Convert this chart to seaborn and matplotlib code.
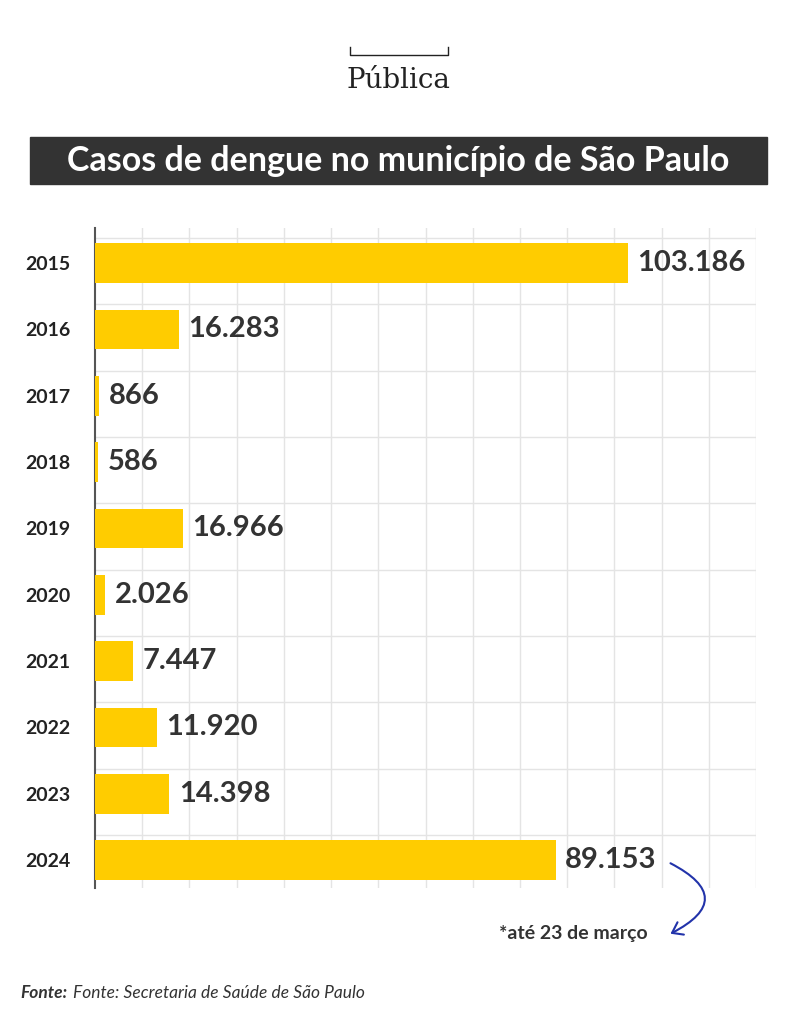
import matplotlib
matplotlib.use("Agg")
import matplotlib.pyplot as plt
import seaborn as sns
import pandas as pd
from matplotlib.patches import Rectangle, FancyArrowPatch

years = ["2015","2016","2017","2018","2019","2020","2021","2022","2023","2024"]
cases = [103186,16283,866,586,16966,2026,7447,11920,14398,89153]
labels = ["103.186","16.283","866","586","16.966","2.026","7.447","11.920","14.398","89.153"]

df = pd.DataFrame({"year": years, "cases": cases})
W, H = 793, 1016
fig = plt.figure(figsize=(W/100, H/100), dpi=100)
ax = fig.add_axes([95/W, 1-888/H, (756-95)/W, (888-228)/H])
sns.barplot(data=df, y="year", x="cases", orient="h", color="#FFCC00", width=0.6,
            saturation=1, ax=ax, zorder=3)
step = 9140
ax.set_xlim(0, 14*step)
ax.set_ylim(9.42, -0.53)
ax.set_xticks([step*i for i in range(1, 15)])
ax.set_yticks(range(10))
ax.set_yticklabels(years, fontsize=14, fontweight="bold", color="#222222", family="Lato")
ax.set_xticklabels([])
ax.set_yticks([i + 0.62 for i in range(-1, 9)], minor=True)
ax.tick_params(axis="both", length=0, pad=18)
ax.tick_params(axis="y", which="minor", length=0)
ax.grid(axis="x", color="#e4e4e4", lw=1, zorder=0)
ax.grid(axis="y", which="minor", color="#e4e4e4", lw=1, zorder=0)
ax.grid(axis="y", which="major", visible=False)
ax.set_xlabel(""); ax.set_ylabel("")
for s in ["top", "right", "bottom"]:
    ax.spines[s].set_visible(False)
ax.spines["left"].set_color("#555555")
ax.spines["left"].set_linewidth(1.5)
for i, (v, l) in enumerate(zip(cases, labels)):
    ax.text(v + 1800, i, l, va="center", ha="left", fontsize=21, fontweight="bold",
            color="#333333", family="Lato", zorder=4)

fig.patches.append(Rectangle((30/W, 1-184/H), 737/W, 47/H, transform=fig.transFigure,
                             color="#333333", zorder=0))
fig.text(398/W, 1-161/H, "Casos de dengue no município de São Paulo", color="white",
         fontsize=24.5, fontweight="bold", ha="center", va="center", family="Lato")
fig.text(398/W, 1-80/H, "Pública", fontsize=20, ha="center", va="center",
         family="DejaVu Serif", color="#222222")
fig.lines.append(plt.Line2D([350/W, 350/W, 448/W, 448/W], [1-47/H, 1-55/H, 1-55/H, 1-47/H],
                            transform=fig.transFigure, color="#222222", lw=1))
fig.text(573/W, 1-933/H, "*até 23 de março", fontsize=14, fontweight="bold",
         ha="center", va="center", family="Lato", color="#333333")
fig.patches.append(FancyArrowPatch((668/W, 1-862/H), (668/W, 1-935/H), transform=fig.transFigure,
                                   connectionstyle="arc3,rad=-1.0", arrowstyle="->,head_length=7,head_width=5",
                                   color="#2233aa", lw=1.5))
fig.text(20/W, 1-993/H, "Fonte:", fontsize=12.5, fontweight="bold", fontstyle="italic",
         va="center", family="Lato", color="#333333")
fig.text(73/W, 1-993/H, "Fonte: Secretaria de Saúde de São Paulo", fontsize=12.5, fontstyle="italic",
         va="center", family="Lato", color="#333333")
fig.savefig("out.png", dpi=100, facecolor="white")
